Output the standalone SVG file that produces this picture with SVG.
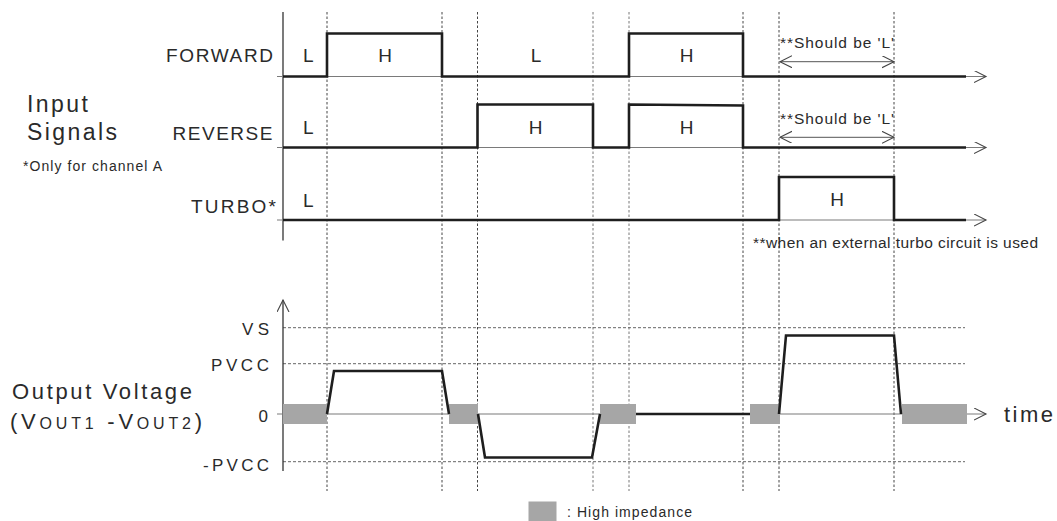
<svg xmlns="http://www.w3.org/2000/svg" width="1057" height="521" viewBox="0 0 1057 521">
<style>
text{font-family:"Liberation Sans",Arial,sans-serif;fill:#2a2a2a}
.lbl{font-size:19px}
.big{font-size:23px}
.sm{font-size:14px}
.ann{font-size:15.5px}
.lvl{font-size:17px}
.sig{fill:none;stroke:#1e1e1e;stroke-width:2.6;stroke-linejoin:miter}
.base{fill:none;stroke:#7a7a7a;stroke-width:1.2}
.axis{fill:none;stroke:#333;stroke-width:1.3}
.vdash{fill:none;stroke:#444;stroke-width:1;stroke-dasharray:2.5,2}
.hdot{fill:none;stroke:#666;stroke-width:1;stroke-dasharray:3,2}
.hiz{fill:#a6a6a6}
.dim{fill:none;stroke:#555;stroke-width:1}
</style>
<defs>
<marker id="arr" markerUnits="userSpaceOnUse" markerWidth="14" markerHeight="14" refX="12" refY="6" orient="auto-start-reverse">
<path d="M0,0 L12,6 L0,12" fill="none" stroke="#444" stroke-width="1.1"/>
</marker>
</defs>

<g id="grid">
<g id="timing-marks">
<line class="vdash" x1="327" y1="12" x2="327" y2="491"/>
<line class="vdash" x1="442" y1="12" x2="442" y2="491"/>
<line class="vdash" x1="477.5" y1="12" x2="477.5" y2="491"/>
<line class="vdash" x1="593" y1="12" x2="593" y2="491" style="stroke:#777"/>
<line class="vdash" x1="629" y1="12" x2="629" y2="491" style="stroke:#777"/>
<line class="vdash" x1="743" y1="12" x2="743" y2="491"/>
<line class="vdash" x1="779" y1="12" x2="779" y2="491"/>
<line class="vdash" x1="894" y1="12" x2="894" y2="491"/>
</g>
<g id="levels">
<line class="hdot" x1="283" y1="327.7" x2="965" y2="327.7"/>
<line class="hdot" x1="283" y1="363.7" x2="965" y2="363.7"/>
<line class="hdot" x1="283" y1="461.7" x2="965" y2="461.7"/>
</g>
</g>

<g id="axes">
<line class="axis" x1="283" y1="12" x2="283" y2="240.5"/>
<line class="base" x1="277" y1="76.5" x2="986" y2="76.5" marker-end="url(#arr)"/>
<line class="base" x1="277" y1="147.5" x2="986" y2="147.5" marker-end="url(#arr)"/>
<line class="base" x1="277" y1="220" x2="986" y2="220" marker-end="url(#arr)"/>
<line class="axis" x1="283" y1="471" x2="283" y2="300" marker-end="url(#arr)"/>
<line class="base" x1="277" y1="414" x2="986" y2="414" marker-end="url(#arr)"/>
</g>

<g id="labels-left">
<text class="big" x="27" y="112" textLength="61" lengthAdjust="spacing">Input</text>
<text class="big" x="27" y="140" textLength="90" lengthAdjust="spacing">Signals</text>
<text class="sm" x="23" y="171" textLength="139" lengthAdjust="spacing">*Only for channel A</text>
<text class="big" style="font-size:22px" x="12" y="399" textLength="180" lengthAdjust="spacing">Output Voltage</text>
<text style="font-size:22px" x="10" y="429" textLength="192" lengthAdjust="spacing">(V<tspan style="font-size:16px">OUT1</tspan> -V<tspan style="font-size:16px">OUT2</tspan>)</text>
</g>

<g id="forward">
<text class="lbl" x="166" y="62" textLength="107" lengthAdjust="spacing">FORWARD</text>
<path class="sig" d="M283,76.5 H327 V33.5 H442 V76.5 H629 V33.5 H743 V76.5 H966"/>
<text class="lbl" x="303" y="62">L</text>
<text class="lbl" x="385" y="62" text-anchor="middle">H</text>
<text class="lbl" x="536" y="62" text-anchor="middle">L</text>
<text class="lbl" x="686.5" y="62" text-anchor="middle">H</text>
</g>

<g id="reverse">
<text class="lbl" x="172.5" y="140" textLength="100" lengthAdjust="spacing">REVERSE</text>
<path class="sig" d="M283,147.5 H477.5 V104.5 H593 V147.5 H629 V104.5 L743,105.5 V147.5 H966"/>
<text class="lbl" x="303" y="133.5">L</text>
<text class="lbl" x="535.5" y="134" text-anchor="middle">H</text>
<text class="lbl" x="686.5" y="134" text-anchor="middle">H</text>
</g>

<g id="turbo">
<text class="lbl" x="191" y="212.5" textLength="85" lengthAdjust="spacing">TURBO*</text>
<path class="sig" d="M283,220 H779 V177 H894 V220 H966"/>
<text class="lbl" x="303" y="206.5">L</text>
<text class="lbl" x="837" y="205.5" text-anchor="middle">H</text>
</g>

<g id="annotations">
<text class="ann" x="780" y="47.5" textLength="114" lengthAdjust="spacing">**Should be 'L'</text>
<line class="dim" x1="780" y1="61.7" x2="894" y2="61.7" marker-start="url(#arr)" marker-end="url(#arr)"/>
<text class="ann" x="780" y="123.5" textLength="114" lengthAdjust="spacing">**Should be 'L'</text>
<line class="dim" x1="780" y1="137.3" x2="894" y2="137.3" marker-start="url(#arr)" marker-end="url(#arr)"/>
<text class="ann" x="753" y="248" textLength="285" lengthAdjust="spacing">**when an external turbo circuit is used</text>
</g>

<g id="output">
<text class="lvl" x="242" y="335" textLength="27" lengthAdjust="spacing">VS</text>
<text class="lvl" x="211" y="370.5" textLength="58" lengthAdjust="spacing">PVCC</text>
<text class="lvl" x="268" y="421.5" text-anchor="end">0</text>
<text class="lvl" x="203" y="470.7" textLength="66" lengthAdjust="spacing">-PVCC</text>
<g id="high-impedance">
<rect class="hiz" x="283" y="404" width="44" height="20"/>
<rect class="hiz" x="449" y="404" width="29" height="20"/>
<rect class="hiz" x="600" y="404" width="36" height="20"/>
<rect class="hiz" x="750" y="404" width="30" height="20"/>
<rect class="hiz" x="902" y="404" width="65" height="20"/>
</g>
<path class="sig" d="M327,414 L334,371 H442 L449,414"/>
<path class="sig" d="M478,414 L485,457.5 H592 L600,414"/>
<path class="sig" d="M636,414 H750"/>
<path class="sig" d="M779,414 L786,335.5 H894 L901,414"/>
<text style="font-size:22px" x="1004" y="422" textLength="49" lengthAdjust="spacing">time</text>
</g>

<g id="legend">
<rect class="hiz" x="528.5" y="501.5" width="28" height="19.5"/>
<text class="sm" x="567" y="517" textLength="125" lengthAdjust="spacing">: High impedance</text>
</g>
</svg>
